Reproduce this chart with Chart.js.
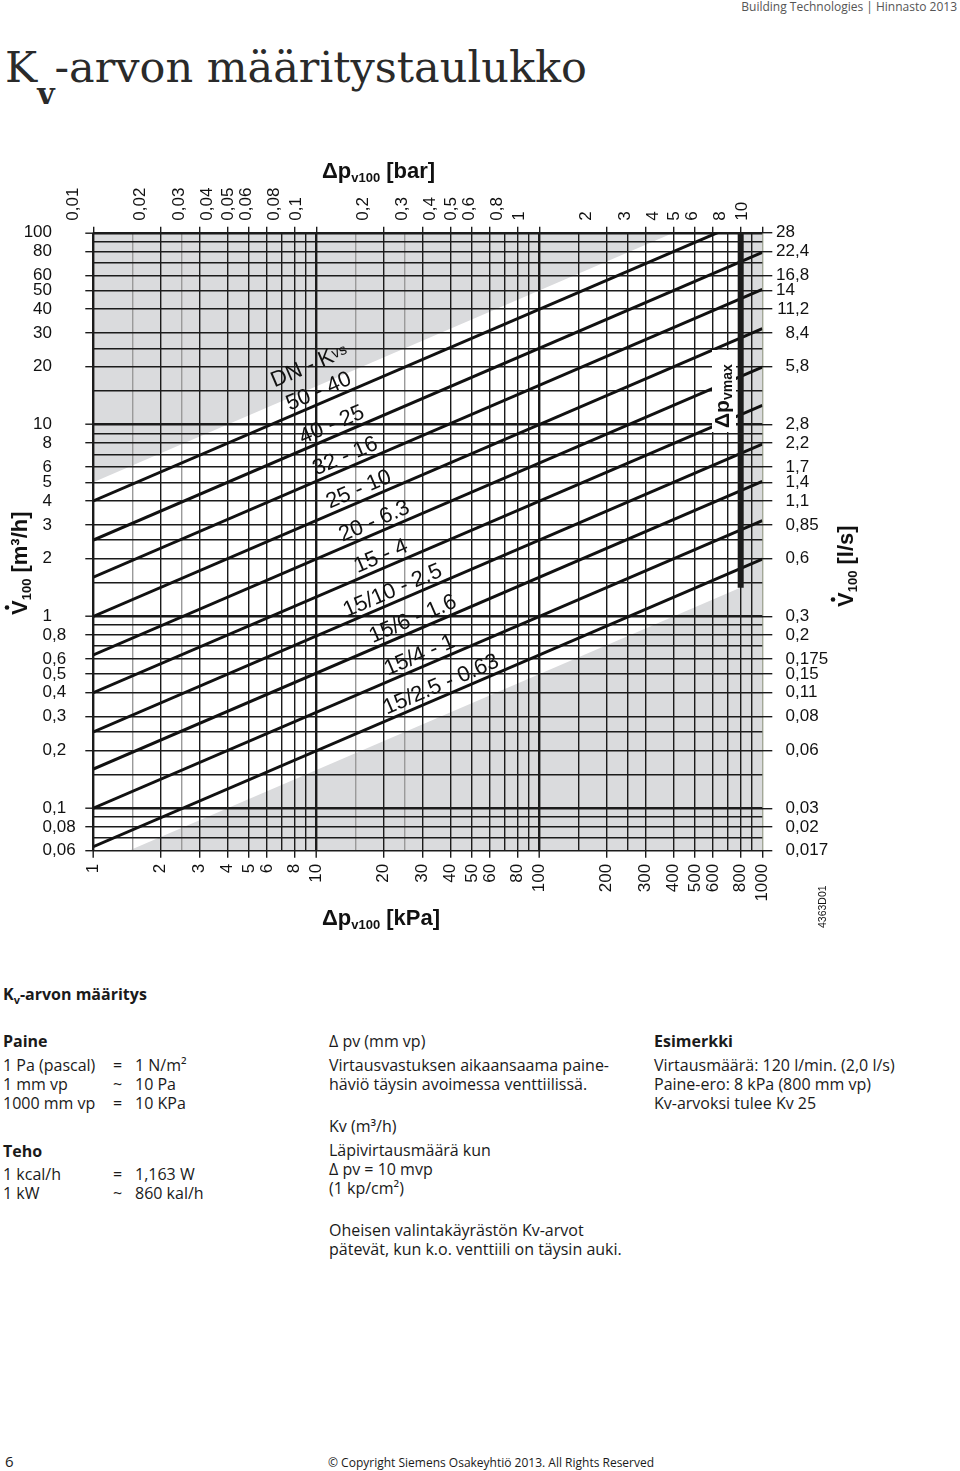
<!DOCTYPE html>
<html>
<head>
<meta charset="utf-8">
<script src="https://cdn.jsdelivr.net/npm/chart.js@4.4.1/dist/chart.umd.min.js"></script>
<style>
  body { margin: 0; width: 960px; height: 1471px; position: relative; background: #fff; overflow: hidden;
         font-family: "Open Sans", sans-serif; color: #1a1a1a; }
  .t { position: absolute; white-space: nowrap; font-size: 16px; line-height: 19px; }
  .b { font-weight: bold; }
  #hdr { position: absolute; right: 3px; top: -2px; font-size: 12px; color: #555; white-space: nowrap; }
  #title { position: absolute; left: 5px; top: 42px; font-family: "DejaVu Serif", serif; font-size: 43px;
           line-height: 50px; color: #2a2a2a; white-space: nowrap; }
  #title .sub { font-size: 30px; font-weight: bold; position: relative; top: 22px; }
  #chart { position: absolute; left: 0; top: 140px; }
  .ksub { font-size: 11px; position: relative; top: 4px; }
</style>
</head>
<body>
<div id="hdr">Building Technologies | Hinnasto 2013</div>
<div id="title">K<span class="sub">v</span>-arvon määritystaulukko</div>

<canvas id="chart" width="960" height="800"></canvas>

<div class="t b" style="left:3px;top:985px">K<span class="ksub">v</span>-arvon määritys</div>

<div class="t b" style="left:3px;top:1032px">Paine</div>
<div class="t" style="left:3px;top:1056px">1 Pa (pascal)<br>1 mm vp<br>1000 mm vp</div>
<div class="t" style="left:113px;top:1056px">=<br>~<br>=</div>
<div class="t" style="left:135px;top:1056px">1 N/m²<br>10 Pa<br>10 KPa</div>

<div class="t b" style="left:3px;top:1142px">Teho</div>
<div class="t" style="left:3px;top:1165px">1 kcal/h<br>1 kW</div>
<div class="t" style="left:113px;top:1165px">=<br>~</div>
<div class="t" style="left:135px;top:1165px">1,163 W<br>860 kal/h</div>

<div class="t" style="left:329px;top:1032px">Δ pv (mm vp)</div>
<div class="t" style="left:329px;top:1056px">Virtausvastuksen aikaansaama paine-<br>häviö täysin avoimessa venttiilissä.</div>
<div class="t" style="left:329px;top:1117px">Kv (m³/h)</div>
<div class="t" style="left:329px;top:1141px">Läpivirtausmäärä kun<br>Δ pv = 10 mvp<br>(1 kp/cm²)</div>
<div class="t" style="left:329px;top:1221px">Oheisen valintakäyrästön Kv-arvot<br>pätevät, kun k.o. venttiili on täysin auki.</div>

<div class="t b" style="left:654px;top:1032px">Esimerkki</div>
<div class="t" style="left:654px;top:1056px">Virtausmäärä: 120 l/min. (2,0 l/s)<br>Paine-ero: 8 kPa (800 mm vp)<br>Kv-arvoksi tulee Kv 25</div>

<div class="t" style="left:5px;top:1452px;font-size:15px">6</div>
<div class="t" style="left:328px;top:1453px;font-size:12px">© Copyright Siemens Osakeyhtiö 2013. All Rights Reserved</div>

<script>
// grid lines (kPa) and labelled ticks
const dpGrid = [1, 1.5, 2, 2.5, 3, 4, 5, 6, 7, 8, 9, 10, 15, 20, 25, 30, 40, 50, 60, 70, 80, 90,
                100, 150, 200, 250, 300, 400, 500, 600, 700, 800, 900, 1000];
const dpLabels = [1, 2, 3, 4, 5, 6, 8, 10, 20, 30, 40, 50, 60, 80, 100, 200, 300, 400, 500, 600, 800, 1000];
const barLabels = ['0,01', '0,02', '0,03', '0,04', '0,05', '0,06', '0,08', '0,1', '0,2', '0,3', '0,4',
                   '0,5', '0,6', '0,8', '1', '2', '3', '4', '5', '6', '8', '10'];
const greyDp = [1.5, 2.5, 15, 25];

// grid lines (m3/h) and labelled ticks
const flowGrid = [0.06, 0.07, 0.08, 0.09, 0.1, 0.15, 0.2, 0.25, 0.3, 0.4, 0.5, 0.6, 0.7, 0.8, 0.9,
                  1, 1.5, 2, 2.5, 3, 4, 5, 6, 7, 8, 9, 10, 15, 20, 25, 30, 40, 50, 60, 70, 80, 90, 100];
const flowLabels = [0.06, 0.08, 0.1, 0.2, 0.3, 0.4, 0.5, 0.6, 0.8, 1, 2, 3, 4, 5, 6, 8, 10, 20, 30, 40, 50, 60, 80, 100];
const flowText = ['0,06', '0,08', '0,1', '0,2', '0,3', '0,4', '0,5', '0,6', '0,8', '1', '2', '3', '4', '5',
                  '6', '8', '10', '20', '30', '40', '50', '60', '80', '100'];
const lsText = ['0,017', '0,02', '0,03', '0,06', '0,08', '0,11', '0,15', '0,175', '0,2', '0,3', '0,6', '0,85',
                '1,1', '1,4', '1,7', '2,2', '2,8', '5,8', '8,4', '11,2', '14', '16,8', '22,4', '28'];

// valve lines DN - Kvs, flow at 1 kPa and at 1000 kPa
const valveNames = ['50 - 40', '40 - 25', '32 - 16', '25 - 10', '20 - 6.3', '15 - 4',
                    '15/10 - 2.5', '15/6 - 1.6', '15/4 - 1', '15/2.5 - 0.63'];
const flowAt1 = [4, 2.5, 1.6, 1, 0.63, 0.4, 0.25, 0.16, 0.1, 0.063];
const flowAt1000 = [126, 79, 50.6, 31.6, 19.9, 12.6, 7.9, 5.06, 3.16, 1.99];

// grey out-of-range zones
const upperZoneDp = [1, 400];
const upperZoneFlow = [5, 100];
const lowerZoneDp = [1.44, 1000];
const lowerZoneFlow = [0.06, 1.58];
const maxZoneDp = [800, 1000];
const maxZoneFlow = [100, 100];
// dp vmax bar
const dpMax = 800;
const dpMaxFlow = [1.41, 100];

const ink = '#1b1b1b';
const grey = '#dadbdd';

function pts(xs, ys) {
    return xs.map((x, i) => ({ x: x, y: ys[i] }));
}

const datasets = [
    { data: pts(upperZoneDp, upperZoneFlow), fill: 'end', backgroundColor: grey, borderColor: 'rgba(0,0,0,0)', pointRadius: 0 },
    { data: pts(lowerZoneDp, lowerZoneFlow), fill: 'start', backgroundColor: grey, borderColor: 'rgba(0,0,0,0)', pointRadius: 0 },
    { data: pts(maxZoneDp, maxZoneFlow), fill: 'start', backgroundColor: grey, borderColor: 'rgba(0,0,0,0)', pointRadius: 0 },
    { data: pts([dpMax, dpMax], dpMaxFlow), borderColor: ink, borderWidth: 6, pointRadius: 0, fill: false }
];
valveNames.forEach((name, i) => {
    datasets.push({
        label: name,
        data: pts([1, 1000], [flowAt1[i], flowAt1000[i]]),
        borderColor: '#111',
        borderWidth: 3,
        pointRadius: 0,
        fill: false
    });
});

// where each line caption starts (kPa, m3/h)
const captionAt = [[6.5, 15.6], [7.6, 11.8], [8.7, 7.9], [10, 5.42], [11.5, 3.64], [13.1, 2.45], [15.3, 1.68],
                   [13.7, 0.99], [17.9, 0.725], [20.9, 0.49], [20.7, 0.307]];

function tickVal(c) {
    return c.tick ? c.tick.value : null;
}

function drawParts(ctx, x, y, parts) {
    let cx = x;
    parts.forEach(p => {
        ctx.font = p[2] + ' ' + p[1] + 'px "Liberation Sans", Arial, sans-serif';
        ctx.fillText(p[0], cx, y + (p[3] || 0));
        cx += ctx.measureText(p[0]).width;
    });
}

function drawDecimal(ctx, text, x, y) {
    const k = text.indexOf(',');
    const ip = k < 0 ? text : text.slice(0, k);
    const rest = k < 0 ? '' : text.slice(k);
    ctx.textAlign = 'right';
    ctx.fillText(ip, x, y);
    ctx.textAlign = 'left';
    ctx.fillText(rest, x, y);
}

const decor = {
    id: 'decor',
    afterDatasetsDraw(chart) {
        const ctx = chart.ctx;
        const xs = chart.scales.x, ys = chart.scales.y;
        ctx.save();
        // dp vmax caption box
        ctx.fillStyle = '#fff';
        ctx.fillRect(712, 210, 24, 82);
        ctx.fillStyle = '#111';
        ctx.textBaseline = 'alphabetic';
        ctx.textAlign = 'left';
        ctx.save();
        ctx.translate(729, 288);
        ctx.rotate(-Math.PI / 2);
        drawParts(ctx, 0, 0, [['Δp', 21, 'bold'], ['vmax', 14, 'bold', 3]]);
        ctx.restore();

        // valve captions along the lines
        const ang = Math.atan2(ys.getPixelForValue(flowAt1000[0]) - ys.getPixelForValue(flowAt1[0]),
                               xs.getPixelForValue(1000) - xs.getPixelForValue(1));
        captionAt.forEach((p, i) => {
            ctx.save();
            ctx.translate(xs.getPixelForValue(p[0]), ys.getPixelForValue(p[1]));
            ctx.rotate(ang);
            if (i === 0) {
                drawParts(ctx, 0, 0, [['DN - K', 22, 'normal'], ['vs', 15, 'normal', -3]]);
            } else {
                drawParts(ctx, 0, 0, [[valveNames[i - 1], 22, 'normal']]);
            }
            ctx.restore();
        });
        ctx.restore();
    },
    afterDraw(chart) {
        const ctx = chart.ctx;
        const ys = chart.scales.y;
        ctx.save();
        ctx.fillStyle = '#111';
        ctx.font = '17px "Liberation Sans", Arial, sans-serif';
        ctx.textBaseline = 'middle';
        flowLabels.forEach((v, i) => {
            const py = ys.getPixelForValue(v);
            drawDecimal(ctx, flowText[i], 52, py);
            drawDecimal(ctx, lsText[i], 795, py);
        });

        ctx.textAlign = 'left';
        ctx.textBaseline = 'alphabetic';
        drawParts(ctx, 322, 38, [['Δp', 22, 'bold'], ['v100', 13, 'bold', 4], [' [bar]', 22, 'bold']]);
        drawParts(ctx, 322, 785, [['Δp', 22, 'bold'], ['v100', 13, 'bold', 4], [' [kPa]', 22, 'bold']]);

        // left and right axis titles
        [[27, 475, ' [m³/h]'], [853, 467, ' [l/s]']].forEach(a => {
            ctx.save();
            ctx.translate(a[0], a[1]);
            ctx.rotate(-Math.PI / 2);
            drawParts(ctx, 0, 0, [['V', 22, 'bold'], ['100', 13, 'bold', 4], [a[2], 22, 'bold']]);
            ctx.beginPath();
            ctx.arc(7.5, -20, 2.3, 0, Math.PI * 2);
            ctx.fill();
            ctx.restore();
        });

        ctx.save();
        ctx.translate(826, 788);
        ctx.rotate(-Math.PI / 2);
        ctx.font = '10.5px "Liberation Sans", Arial, sans-serif';
        ctx.fillText('4363D01', 0, 0);
        ctx.restore();
        ctx.restore();
    }
};

const tickFont = { family: 'Liberation Sans', size: 17 };

new Chart(document.getElementById('chart'), {
    type: 'line',
    data: { datasets: datasets },
    plugins: [decor],
    options: {
        responsive: false,
        animation: false,
        devicePixelRatio: 1,
        layout: { padding: 0 },
        elements: { line: { tension: 0 } },
        plugins: {
            legend: { display: false },
            tooltip: { enabled: false },
            filler: { drawTime: 'beforeDraw' }
        },
        scales: {
            x: {
                type: 'logarithmic', position: 'bottom', min: 1, max: 1000,
                afterBuildTicks: s => { s.ticks = dpGrid.map(v => ({ value: v })); },
                afterFit: s => { s.height = 89.2; },
                border: { display: false },
                grid: {
                    color: c => {
                        const v = tickVal(c);
                        if (v === 1000) return '#a2a797';
                        return greyDp.includes(v) ? '#9a9a9a' : ink;
                    },
                    lineWidth: c => [1, 10, 100].includes(tickVal(c)) ? 2.4 : 1.4,
                    tickColor: c => dpLabels.includes(tickVal(c)) ? ink : 'rgba(0,0,0,0)',
                    tickWidth: 1.4,
                    tickLength: 7
                },
                ticks: {
                    autoSkip: false, minRotation: 90, maxRotation: 90, padding: 6,
                    color: '#111', font: tickFont,
                    callback: v => dpLabels.includes(v) ? String(v) : ''
                }
            },
            x2: {
                type: 'logarithmic', position: 'top', min: 0.01, max: 10,
                afterBuildTicks: s => { s.ticks = dpLabels.map(v => ({ value: v / 100 })); },
                afterFit: s => { s.height = 92.7; },
                border: { display: false },
                grid: { drawOnChartArea: false, color: ink, lineWidth: 1.4, tickLength: 6 },
                ticks: {
                    autoSkip: false, minRotation: 90, maxRotation: 90, padding: 6,
                    color: '#111', font: tickFont,
                    callback: (v, i) => barLabels[i]
                }
            },
            y: {
                type: 'logarithmic', position: 'left', min: 0.06, max: 100,
                afterBuildTicks: s => { s.ticks = flowGrid.map(v => ({ value: v })); },
                afterFit: s => { s.width = 93.3; },
                border: { display: false },
                grid: {
                    color: ink,
                    lineWidth: c => [0.1, 1, 10, 100].includes(tickVal(c)) ? 2.4 : 1.4,
                    tickColor: c => flowLabels.includes(tickVal(c)) ? ink : 'rgba(0,0,0,0)',
                    tickWidth: 1.4,
                    tickLength: 8
                },
                ticks: { display: false }
            },
            y2: {
                type: 'logarithmic', position: 'right', min: 0.06, max: 100,
                afterBuildTicks: s => { s.ticks = flowLabels.map(v => ({ value: v })); },
                afterFit: s => { s.width = 197.7; },
                border: { display: false },
                grid: { drawOnChartArea: false, color: ink, lineWidth: 1.4, tickLength: 10 },
                ticks: { display: false }
            }
        }
    }
});
</script>
</body>
</html>
